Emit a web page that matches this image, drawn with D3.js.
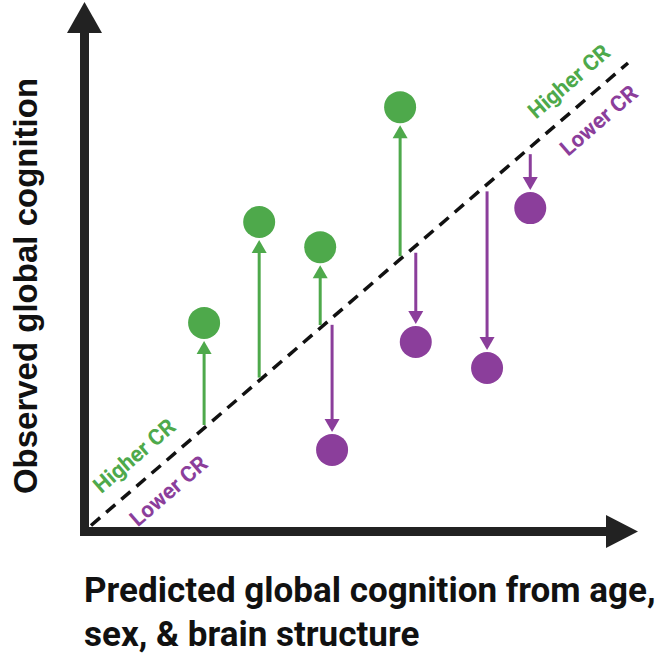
<!DOCTYPE html>
<html>
<head>
<meta charset="utf-8">
<script src="https://cdn.jsdelivr.net/npm/d3@7"></script>
<style>
  body { margin: 0; background: #fff; }
  svg { display: block; }
</style>
</head>
<body>
<div id="chart"></div>
<script>
// predicted (x) vs observed (y) global cognition, arbitrary units 0-10
const predicted = [2.15, 3.17, 4.30, 4.52, 5.78, 6.07, 7.39, 8.19]
const observed  = [4.41, 6.58, 6.04, 1.68, 9.05, 4.00, 3.44, 6.88]

const xLabelLines = ["Predicted global cognition from age,", "sex, & brain structure"]
const yLabel = "Observed global cognition"
const crLabels = ["Higher CR", "Lower CR"]

const green = "#4ea94b"
const purple = "#8b3e9b"
const ink = "#222222"

const width = 661, height = 657

const x = d3.scaleLinear().domain([0, 10]).range([88, 628])
const y = d3.scaleLinear().domain([0, 10]).range([528, 63])

const svg = d3.select("#chart").append("svg")
  .attr("width", width)
  .attr("height", height)

// axes with arrowheads
const ox = 84.5, oy = 531.5
svg.append("path")
  .attr("d", `M${ox},33 V${oy} H606`)
  .attr("fill", "none")
  .attr("stroke", ink)
  .attr("stroke-width", 9)
  .attr("stroke-linejoin", "miter")
svg.append("path")
  .attr("d", `M${ox},2 L${ox - 17.5},33 L${ox + 17.5},33 Z`)
  .attr("fill", ink)
svg.append("path")
  .attr("d", `M638,${oy} L606,${oy - 16.5} L606,${oy + 16.5} Z`)
  .attr("fill", ink)

// identity line (predicted == observed)
svg.append("line")
  .attr("x1", x(0) + 3).attr("y1", y(0) - 2.5)
  .attr("x2", x(10)).attr("y2", y(10))
  .attr("stroke", "#111")
  .attr("stroke-width", 3.5)
  .attr("stroke-dasharray", "12,8")

const pts = predicted.map((p, i) => ({p: p, o: observed[i], up: observed[i] > p}))

const r = 16, headH = 13, headW = 15

const arrows = svg.selectAll("g.arrow")
  .data(pts)
  .join("g")
  .attr("class", "arrow")

arrows.append("line")
  .attr("x1", d => x(d.p))
  .attr("x2", d => x(d.p))
  .attr("y1", d => d.up ? y(d.p) - 3 : y(d.p) + 7)
  .attr("y2", d => d.up ? y(d.o) + r + 2 + headH - 1 : y(d.o) - r - 2 - headH + 1)
  .attr("stroke", d => d.up ? green : purple)
  .attr("stroke-width", 3)

arrows.append("path")
  .attr("d", d => {
    const cx = x(d.p)
    const tip = d.up ? y(d.o) + r + 2 : y(d.o) - r - 2
    const base = d.up ? tip + headH : tip - headH
    return `M${cx},${tip} L${cx - headW / 2},${base} L${cx + headW / 2},${base} Z`
  })
  .attr("fill", d => d.up ? green : purple)

arrows.append("circle")
  .attr("cx", d => x(d.p))
  .attr("cy", d => y(d.o))
  .attr("r", r)
  .attr("fill", d => d.up ? green : purple)

// Higher / Lower CR labels along the line
const angle = Math.atan2(y(0) - y(10), x(10) - x(0)) * 180 / Math.PI
const labelSpots = [0.45, 8.5]
labelSpots.forEach(v => {
  const g = svg.append("g")
    .attr("transform", `translate(${x(v)},${y(v)}) rotate(${-angle})`)
    .attr("font-family", "Roboto, sans-serif")
    .attr("font-weight", 700)
    .attr("font-size", 22)
  g.append("text")
    .attr("x", 0).attr("y", -17)
    .attr("fill", green)
    .text(crLabels[0])
  g.append("text")
    .attr("x", v < 1 ? 6 : 0).attr("y", 18 + 14)
    .attr("fill", purple)
    .text(crLabels[1])
})

// axis titles
svg.append("text")
  .attr("transform", `translate(37,286) rotate(-90)`)
  .attr("text-anchor", "middle")
  .attr("font-family", "'Liberation Sans', Arial, sans-serif")
  .attr("font-weight", 700)
  .attr("font-size", 33)
  .attr("fill", "#111")
  .text(yLabel)

svg.selectAll("text.xlab")
  .data(xLabelLines)
  .join("text")
  .attr("class", "xlab")
  .attr("x", 84)
  .attr("y", (d, i) => 602 + i * 44)
  .attr("font-family", "Roboto, sans-serif")
  .attr("font-weight", 700)
  .attr("font-size", 35)
  .attr("fill", "#111")
  .text(d => d)
</script>
</body>
</html>
